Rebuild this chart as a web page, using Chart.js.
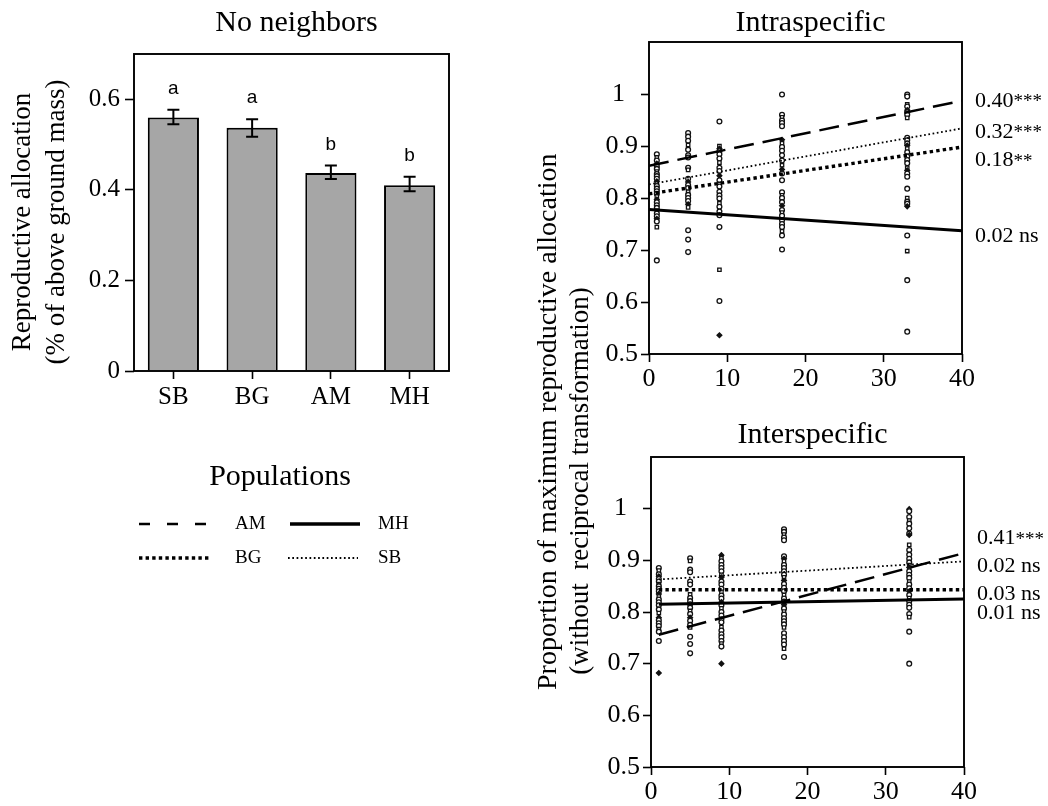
<!DOCTYPE html>
<html>
<head>
<meta charset="utf-8">
<script src="https://cdn.jsdelivr.net/npm/chart.js"></script>
<style>
  body { margin: 0; background: #fff; }
  #page { position: relative; width: 1048px; height: 806px; overflow: hidden; }
  canvas { position: absolute; }
  .ylab {
    position: absolute; width: 600px; height: 34px; line-height: 34px;
    transform: rotate(-90deg); color: #000; white-space: nowrap;
    font-family: 'Liberation Serif', serif;
  }
</style>
</head>
<body>
<div id="page">
  <canvas id="barChart" width="480" height="410" style="left:0px;top:0px"></canvas>
  <canvas id="legend" width="480" height="140" style="left:0px;top:440px"></canvas>
  <canvas id="intraChart" width="488" height="400" style="left:560px;top:0px"></canvas>
  <canvas id="interChart" width="488" height="396" style="left:560px;top:410px"></canvas>
  <div class="ylab" style="left:247px;top:373px;font-size:28px;text-align:left">Proportion of maximum reproductive allocation</div>
  <div class="ylab" style="left:279px;top:464px;font-size:27px;text-align:center">(without&nbsp; reciprocal transformation)</div>
</div>
<script>
// --- bar chart data (no neighbors) ---
const populations = ['SB', 'BG', 'AM', 'MH'];
const allocMean = [0.560, 0.537, 0.437, 0.410];
const allocLow = [0.545, 0.517, 0.424, 0.397];
const allocHigh = [0.577, 0.556, 0.454, 0.429];
const allocLetters = ['a', 'a', 'b', 'b'];
const barTicks = [0, 0.2, 0.4, 0.6];

// --- scatter data: densities and values per density column ---
const densities = [1, 5, 9, 17, 33];
const scatterTicksY = [0.5, 0.6, 0.7, 0.8, 0.9, 1];

const intraD1 = [0.884, 0.878, 0.872, 0.866, 0.861, 0.856, 0.851, 0.846, 0.842, 0.837, 0.832, 0.828, 0.823, 0.818, 0.813, 0.808, 0.803, 0.797, 0.792, 0.786, 0.781, 0.776, 0.770, 0.765, 0.760, 0.755, 0.744, 0.680];
const intraD5 = [0.925, 0.918, 0.910, 0.902, 0.893, 0.882, 0.878, 0.858, 0.854, 0.837, 0.831, 0.825, 0.819, 0.812, 0.806, 0.800, 0.794, 0.788, 0.782, 0.738, 0.720, 0.696];
const intraD9 = [0.947, 0.900, 0.895, 0.890, 0.884, 0.876, 0.868, 0.858, 0.852, 0.843, 0.834, 0.827, 0.822, 0.812, 0.805, 0.799, 0.790, 0.783, 0.774, 0.767, 0.744, 0.662, 0.602, 0.536];
const intraD17 = [0.999, 0.960, 0.955, 0.949, 0.944, 0.938, 0.912, 0.905, 0.898, 0.891, 0.882, 0.872, 0.863, 0.855, 0.847, 0.834, 0.811, 0.805, 0.800, 0.792, 0.785, 0.777, 0.772, 0.766, 0.757, 0.750, 0.744, 0.736, 0.728, 0.701];
const intraD33 = [0.999, 0.995, 0.980, 0.976, 0.969, 0.965, 0.960, 0.954, 0.916, 0.911, 0.905, 0.901, 0.895, 0.888, 0.880, 0.873, 0.867, 0.858, 0.853, 0.847, 0.841, 0.818, 0.800, 0.793, 0.789, 0.784, 0.728, 0.698, 0.642, 0.543];

const interD1 = [0.885, 0.880, 0.873, 0.869, 0.864, 0.859, 0.854, 0.850, 0.845, 0.840, 0.835, 0.830, 0.824, 0.819, 0.813, 0.805, 0.798, 0.789, 0.784, 0.778, 0.773, 0.767, 0.762, 0.744, 0.682];
const interD5 = [0.904, 0.899, 0.882, 0.877, 0.859, 0.853, 0.834, 0.827, 0.821, 0.815, 0.808, 0.802, 0.796, 0.789, 0.783, 0.775, 0.770, 0.752, 0.738, 0.720];
const interD9 = [0.910, 0.904, 0.898, 0.891, 0.885, 0.879, 0.872, 0.867, 0.859, 0.853, 0.845, 0.839, 0.832, 0.826, 0.819, 0.813, 0.807, 0.800, 0.793, 0.786, 0.780, 0.771, 0.764, 0.757, 0.751, 0.744, 0.739, 0.733, 0.700];
const interD17 = [0.960, 0.955, 0.950, 0.944, 0.939, 0.908, 0.903, 0.898, 0.891, 0.885, 0.879, 0.872, 0.867, 0.861, 0.854, 0.847, 0.840, 0.833, 0.826, 0.820, 0.814, 0.807, 0.801, 0.795, 0.788, 0.782, 0.776, 0.770, 0.759, 0.751, 0.744, 0.737, 0.729, 0.713];
const interD33 = [0.999, 0.995, 0.984, 0.977, 0.971, 0.962, 0.952, 0.949, 0.930, 0.920, 0.911, 0.903, 0.896, 0.891, 0.886, 0.879, 0.872, 0.866, 0.859, 0.853, 0.846, 0.840, 0.833, 0.827, 0.821, 0.814, 0.808, 0.796, 0.790, 0.762, 0.700];

// --- regression lines (order: AM, SB, BG, MH) ---
const fitNames = ['AM', 'SB', 'BG', 'MH'];
const intraFitX = [0, 40];
const intraFitStart = [0.862, 0.826, 0.808, 0.778];
const intraFitEnd = [0.987, 0.934, 0.898, 0.737];
const intraSlopes = ['0.40', '0.32', '0.18', '0.02'];
const intraSig = ['***', '***', '**', ' ns'];
const intraSlopeAt = [0.987, 0.926, 0.872, 0.727];

const interFitX = [1, 40];
const interFitStart = [0.756, 0.863, 0.843, 0.815];
const interFitEnd = [0.914, 0.898, 0.843, 0.825];
const interSlopes = ['0.41', '0.02', '0.03', '0.01'];
const interSig = ['***', ' ns', ' ns', ' ns'];
const interSlopeAt = [0.942, 0.888, 0.835, 0.798];

const legendOrder = ['AM', 'MH', 'BG', 'SB'];

// line looks per population
const lineStyles = {
  AM: { width: 2.5, dash: [20, 9], legendDash: [11, 17] },
  SB: { width: 1.8, dash: [1.7, 2.6], legendDash: [1.7, 2.6] },
  BG: { width: 3.4, dash: [3.4, 3.2], legendDash: [3.4, 3.2] },
  MH: { width: 3, dash: [], legendDash: [] }
};

const SERIF = "'Liberation Serif', 'Times New Roman', serif";
const SANS = "'Liberation Sans', Arial, sans-serif";
Chart.defaults.font.family = SERIF;
Chart.defaults.color = '#000';

function drawFrame(chart) {
  const { ctx, chartArea: a } = chart;
  ctx.save();
  ctx.strokeStyle = '#000';
  ctx.lineWidth = 1.9;
  ctx.strokeRect(a.left, a.top, a.right - a.left, a.bottom - a.top);
  ctx.restore();
}

function tickGrid() {
  return { display: true, drawOnChartArea: false, drawTicks: true, tickLength: 8, tickColor: '#000', tickWidth: 1.6 };
}

// error bars, letters, frame, title and axis title of the bar chart
const barDecor = {
  id: 'barDecor',
  afterDatasetsDraw(chart) {
    const { ctx, chartArea: a, scales: { x, y } } = chart;
    ctx.save();
    ctx.strokeStyle = '#000';
    ctx.fillStyle = '#000';
    ctx.lineWidth = 2;
    populations.forEach((p, i) => {
      const px = x.getPixelForValue(i);
      const lo = y.getPixelForValue(allocLow[i]);
      const hi = y.getPixelForValue(allocHigh[i]);
      ctx.beginPath();
      ctx.moveTo(px, lo); ctx.lineTo(px, hi);
      ctx.moveTo(px - 6, lo); ctx.lineTo(px + 6, lo);
      ctx.moveTo(px - 6, hi); ctx.lineTo(px + 6, hi);
      ctx.stroke();
      ctx.font = '19px ' + SANS;
      ctx.textAlign = 'center';
      ctx.textBaseline = 'middle';
      ctx.fillText(allocLetters[i], px, hi - 21);
    });
    ctx.restore();
    drawFrame(chart);

    ctx.save();
    ctx.fillStyle = '#000';
    ctx.textAlign = 'center';
    ctx.textBaseline = 'middle';
    ctx.font = '30px ' + SERIF;
    ctx.fillText('No neighbors', (a.left + a.right) / 2 + 5, a.top - 31);
    ctx.translate(a.left - 111, 222);
    ctx.rotate(-Math.PI / 2);
    ctx.font = '27px ' + SERIF;
    ctx.fillText('Reproductive allocation', 0, 0);
    ctx.fillText('(% of above ground mass)', 0, 34);
    ctx.restore();
  }
};

new Chart(document.getElementById('barChart'), {
  type: 'bar',
  data: {
    labels: populations,
    datasets: [{
      data: allocMean,
      backgroundColor: '#a6a6a6',
      borderColor: '#000',
      borderWidth: 2,
      barPercentage: 0.65,
      categoryPercentage: 1
    }]
  },
  options: {
    responsive: false,
    animation: false,
    layout: { padding: { top: 54, right: 31, left: 0, bottom: 0 } },
    plugins: { legend: { display: false }, tooltip: { enabled: false } },
    scales: {
      x: {
        grid: Object.assign(tickGrid(), { offset: false }),
        border: { display: false },
        ticks: { font: { size: 25 }, padding: 3, color: '#000' },
        afterFit: s => { s.height = 39; }
      },
      y: {
        min: 0,
        max: 0.7,
        grid: Object.assign(tickGrid(), { tickLength: 9 }),
        border: { display: false },
        ticks: { font: { size: 25 }, padding: 5, color: '#000', callback: v => v === 0 ? '0' : v.toFixed(1) },
        afterBuildTicks: s => { s.ticks = barTicks.map(v => ({ value: v })); },
        afterFit: s => { s.width = 134; }
      }
    }
  },
  plugins: [barDecor]
});

// marker look picked from position in the column
function markerStyle(i) {
  if (i % 5 === 1) return 'rect';
  if (i % 7 === 3) return 'rectRot';
  return 'circle';
}

function makeScatter(id, columns, fitX, fitStart, fitEnd, slopes, sig, slopeAt, title, opts) {
  const points = [];
  densities.forEach((d, c) => {
    columns[c].forEach(v => points.push({ x: d, y: v }));
  });
  const datasets = [{
    data: points,
    order: 1,
    pointRadius: 2.4,
    pointBorderWidth: 1.3,
    pointBorderColor: '#111',
    pointStyle: ctx => markerStyle(ctx.dataIndex),
    pointBackgroundColor: ctx => markerStyle(ctx.dataIndex) === 'rectRot' ? '#111' : '#fff',
    showLine: false
  }];
  fitNames.forEach((name, i) => {
    const st = lineStyles[name];
    datasets.push({
      data: [{ x: fitX[0], y: fitStart[i] }, { x: fitX[1], y: fitEnd[i] }],
      order: 0,
      showLine: true,
      borderColor: '#000',
      borderWidth: st.width,
      borderDash: st.dash,
      borderCapStyle: 'butt',
      pointRadius: 0
    });
  });

  const decor = {
    id: 'scatterDecor',
    afterDraw(chart) {
      const { ctx, chartArea: a, scales: { y } } = chart;
      drawFrame(chart);
      ctx.save();
      ctx.fillStyle = '#000';
      ctx.textBaseline = 'middle';
      ctx.textAlign = 'center';
      ctx.font = '30px ' + SERIF;
      ctx.fillText(title, (a.left + a.right) / 2 + 5, a.top - opts.titleGap);
      ctx.textAlign = 'left';
      slopes.forEach((s, i) => {
        const py = y.getPixelForValue(slopeAt[i]);
        ctx.font = '22px ' + SERIF;
        ctx.fillText(s, a.right + 13, py);
        const w = ctx.measureText(s).width;
        if (sig[i].trim() === 'ns') {
          ctx.fillText(sig[i], a.right + 13 + w, py);
        } else {
          ctx.font = '19px ' + SERIF;
          ctx.fillText(sig[i], a.right + 13 + w, py + 1);
        }
      });
      ctx.restore();
    }
  };

  new Chart(document.getElementById(id), {
    type: 'scatter',
    data: { datasets },
    options: {
      responsive: false,
      animation: false,
      layout: { padding: { top: opts.top, right: opts.right, left: 0, bottom: 0 } },
      plugins: { legend: { display: false }, tooltip: { enabled: false } },
      scales: {
        x: {
          type: 'linear',
          min: 0,
          max: 40,
          grid: tickGrid(),
          border: { display: false },
          ticks: { stepSize: 10, font: { size: 26 }, padding: 2, color: '#000' },
          afterFit: s => { s.height = opts.axisH; }
        },
        y: {
          min: 0.5,
          max: 1.1,
          grid: tickGrid(),
          border: { display: false },
          ticks: { font: { size: 26 }, padding: 3, color: '#000', callback: v => v === 1 ? '1\u2002' : v.toFixed(1) },
          afterBuildTicks: s => { s.ticks = scatterTicksY.map(v => ({ value: v })); },
          afterFit: s => { s.width = opts.axisW; }
        }
      }
    },
    plugins: [decor]
  });
}

makeScatter('intraChart', [intraD1, intraD5, intraD9, intraD17, intraD33],
  intraFitX, intraFitStart, intraFitEnd, intraSlopes, intraSig, intraSlopeAt, 'Intraspecific',
  { top: 42, right: 86, axisW: 89, axisH: 46, titleGap: 19 });

makeScatter('interChart', [interD1, interD5, interD9, interD17, interD33],
  interFitX, interFitStart, interFitEnd, interSlopes, interSig, interSlopeAt, 'Interspecific',
  { top: 47, right: 84, axisW: 91, axisH: 39, titleGap: 22 });

// legend drawn by hand
function drawLegend() {
  const ctx = document.getElementById('legend').getContext('2d');
  ctx.fillStyle = '#000';
  ctx.strokeStyle = '#000';
  ctx.textBaseline = 'middle';
  ctx.textAlign = 'center';
  ctx.font = '30px ' + SERIF;
  ctx.fillText('Populations', 280, 37);
  const spots = [[139, 84, 84, 235], [290, 84, 70, 378], [139, 118, 70, 235], [288, 118, 70, 378]];
  legendOrder.forEach((name, i) => {
    const [x, y, len, tx] = spots[i];
    const st = lineStyles[name];
    ctx.save();
    ctx.lineWidth = name === 'MH' ? 3.5 : st.width;
    ctx.setLineDash(st.legendDash);
    ctx.beginPath();
    ctx.moveTo(x, y);
    ctx.lineTo(x + len, y);
    ctx.stroke();
    ctx.restore();
    ctx.textAlign = 'left';
    ctx.font = '19px ' + SERIF;
    ctx.fillText(name, tx, y);
  });
}
drawLegend();
</script>
</body>
</html>
